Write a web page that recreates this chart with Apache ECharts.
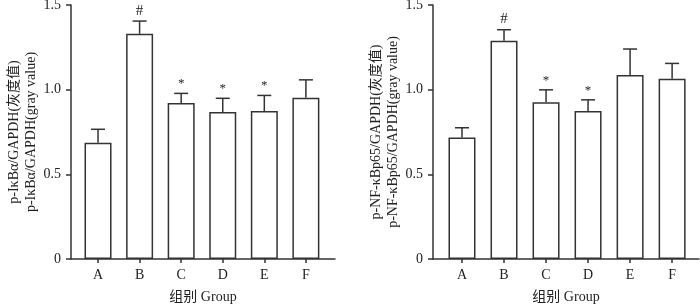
<!DOCTYPE html>
<html>
<head>
<meta charset="utf-8">
<script src="https://cdn.jsdelivr.net/npm/echarts@6/dist/echarts.min.js"></script>
<style>
  html, body { margin: 0; padding: 0; background: #fff; }
  #main { width: 700px; height: 305px; }
</style>
</head>
<body>
<div id="main"></div>
<script>
// groups
var groups = ['A', 'B', 'C', 'D', 'E', 'F'];
var yTicks = [0, 0.5, 1.0, 1.5];

// left panel: p-IκBα/GAPDH
var ikbMean = [0.687, 1.330, 0.921, 0.868, 0.874, 0.952];
var ikbErr  = [0.079, 0.075, 0.057, 0.081, 0.092, 0.106];
var ikbMark = ['', '#', '*', '*', '*', ''];

// right panel: p-NF-κBp65/GAPDH
var nfMean = [0.718, 1.289, 0.925, 0.874, 1.086, 1.064];
var nfErr  = [0.057, 0.065, 0.074, 0.066, 0.154, 0.091];
var nfMark = ['', '#', '*', '*', '', ''];

var font = "'Liberation Serif', 'Noto Sans CJK SC', serif";
var ink = '#333';

function toPairs(arr) {
  return arr.map(function (v, i) { return [i, v]; });
}

function errData(mean, err, mark) {
  return mean.map(function (v, i) { return [i, v, v + err[i], mark[i]]; });
}

// error bar + significance marker
function renderErr(params, api) {
  var x = api.value(0);
  var lo = api.coord([x, api.value(1)]);
  var hi = api.coord([x, api.value(2)]);
  var mark = api.value(3);
  var cap = 7;
  var st = { stroke: ink, lineWidth: 1.5 };
  var kids = [
    { type: 'line', shape: { x1: lo[0], y1: lo[1], x2: hi[0], y2: hi[1] }, style: st },
    { type: 'line', shape: { x1: hi[0] - cap, y1: hi[1], x2: hi[0] + cap, y2: hi[1] }, style: st }
  ];
  if (mark) {
    kids.push({
      type: 'text',
      style: {
        text: mark, x: hi[0], y: hi[1] - 3,
        align: 'center', verticalAlign: 'bottom',
        fill: '#222', font: (mark === '#' ? '15px ' : '13px ') + font
      }
    });
  }
  return { type: 'group', children: kids };
}

function xAxisFor(idx, min, max) {
  return {
    gridIndex: idx, type: 'value', min: min, max: max,
    name: '组别 Group', nameLocation: 'middle', nameGap: 31,
    nameTextStyle: { fontFamily: font, fontSize: 14, color: '#222' },
    axisLine: { show: true, onZero: false, lineStyle: { color: ink, width: 1.5 } },
    axisTick: { show: true, length: 4, customValues: [0, 1, 2, 3, 4, 5], lineStyle: { color: ink, width: 1.5 } },
    axisLabel: {
      customValues: [0, 1, 2, 3, 4, 5], margin: 9,
      fontFamily: font, fontSize: 14, color: '#222',
      formatter: function (v) { return groups[Math.round(v)]; }
    },
    splitLine: { show: false }
  };
}

function yAxisFor(idx, name, gap) {
  return {
    gridIndex: idx, type: 'value', min: 0, max: 1.5, interval: 0.5,
    name: name, nameLocation: 'middle', nameGap: gap, nameRotate: 90,
    nameTextStyle: { fontFamily: font, fontSize: 14, color: '#222', lineHeight: 17 },
    axisLine: { show: true, onZero: false, lineStyle: { color: ink, width: 1.5 } },
    axisTick: { show: true, length: 5, lineStyle: { color: ink, width: 1.5 } },
    axisLabel: {
      margin: 10, fontFamily: font, fontSize: 14, color: '#222',
      formatter: function (v) { return v === 0 ? '0' : v.toFixed(1); }
    },
    splitLine: { show: false }
  };
}

var barStyle = { color: '#fff', borderColor: ink, borderWidth: 1.5 };

var chart = echarts.init(document.getElementById('main'));
chart.setOption({
  animation: false,
  grid: [
    { left: 71, top: 5, width: 264, height: 254, outerBoundsMode: 'none', containLabel: false },
    { left: 433, top: 5, width: 266, height: 254, outerBoundsMode: 'none', containLabel: false }
  ],
  xAxis: [xAxisFor(0, -0.65, 5.70), xAxisFor(1, -0.69, 5.64)],
  yAxis: [
    yAxisFor(0, 'p-IκBα/GAPDH(灰度值)\np-IκBα/GAPDH(gray value)', 31),
    yAxisFor(1, 'p-NF-κBp65/GAPDH(灰度值)\np-NF-κBp65/GAPDH(gray value)', 31)
  ],
  series: [
    { type: 'bar', xAxisIndex: 0, yAxisIndex: 0, barWidth: 27, data: toPairs(ikbMean), itemStyle: barStyle, z: 2 },
    { type: 'custom', xAxisIndex: 0, yAxisIndex: 0, renderItem: renderErr, data: errData(ikbMean, ikbErr, ikbMark), z: 3 },
    { type: 'bar', xAxisIndex: 1, yAxisIndex: 1, barWidth: 27, data: toPairs(nfMean), itemStyle: barStyle, z: 2 },
    { type: 'custom', xAxisIndex: 1, yAxisIndex: 1, renderItem: renderErr, data: errData(nfMean, nfErr, nfMark), z: 3 }
  ]
});
</script>
</body>
</html>
